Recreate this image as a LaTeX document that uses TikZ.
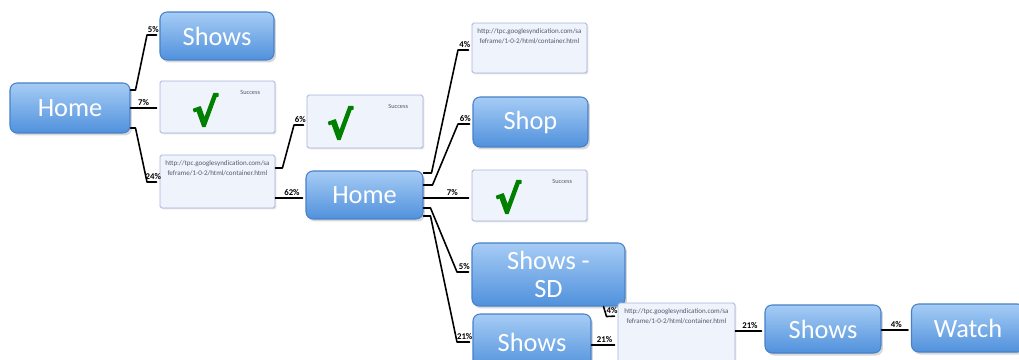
\documentclass[tikz,border=0pt]{standalone}
\usepackage{fontspec}
\setmainfont{Carlito}
\newfontfamily\symfont[FakeBold=3.5]{DejaVu Sans}
\usetikzlibrary{shadows}
\definecolor{boxtop}{RGB}{166,204,245}
\definecolor{boxbot}{RGB}{80,145,220}
\definecolor{boxedge}{RGB}{72,128,202}
\definecolor{pagefill}{RGB}{239,243,251}
\definecolor{pageedge}{RGB}{168,180,222}
\definecolor{urlgray}{RGB}{85,88,110}
\definecolor{okgreen}{RGB}{0,128,0}

\begin{document}
\begin{tikzpicture}[line cap=round,line join=round,x=0.02cm,y=-0.02cm,
  navbox/.style={draw=boxedge,line width=0.6pt,rounded corners=0.14cm,top color=boxtop,bottom color=boxbot,
    text=white,font=\fontsize{15}{16}\selectfont,align=center,
    drop shadow={shadow xshift=0.04cm,shadow yshift=-0.05cm,opacity=0.3}},
  pagebox/.style={draw=pageedge,line width=0.5pt,fill=pagefill,rounded corners=1pt,
    drop shadow={shadow xshift=0.03cm,shadow yshift=-0.03cm,opacity=0.2}},
  urltxt/.style={anchor=north,yshift=-0.12cm,align=center,text=urlgray,font=\fontsize{4}{5.4}\selectfont,inner sep=0pt},
  succtxt/.style={anchor=north east,xshift=-0.3cm,yshift=-0.18cm,text=urlgray,font=\fontsize{3.6}{4}\selectfont,inner sep=0pt},
  checktxt/.style={anchor=center,text=okgreen,font=\symfont\bfseries\fontsize{22}{22}\selectfont,inner sep=0pt},
  conn/.style={line width=0.9pt,shorten >=0.06cm},
  pct/.style={above,inner sep=0.8pt,font=\fontsize{5}{6}\selectfont\bfseries}]
\fill[white] (0,0) rectangle (1019,359);
\useasboundingbox (0,0) rectangle (1019,359);

% first column
\node[navbox,minimum width=2.4cm,minimum height=1cm] (home1) at (70,108) {Home};
\node[navbox,minimum width=2.28cm,minimum height=0.96cm] (shows1) at (217,36) {Shows};
\node[pagebox,minimum width=2.3cm,minimum height=1.04cm,
  label={[succtxt]north east:Success},
  label={[checktxt,xshift=-0.25cm,yshift=-0.06cm]center:√}] (succ1) at (217.5,107) {};
\node[pagebox,minimum width=2.3cm,minimum height=1.06cm,
  label={[urltxt]north:{http://tpc.googlesyndication.com/sa\\feframe/1-0-2/html/container.html}}] (url1) at (217.5,181.5) {};

% second column
\node[pagebox,minimum width=2.32cm,minimum height=1.06cm,
  label={[succtxt]north east:Success},
  label={[checktxt,xshift=-0.5cm,yshift=-0.03cm]center:√}] (succ2) at (365,121.5) {};
\node[navbox,minimum width=2.34cm,minimum height=0.96cm] (home2) at (364.5,195) {Home};

% third column
\node[pagebox,minimum width=2.3cm,minimum height=1cm,
  label={[urltxt]north:{http://tpc.googlesyndication.com/sa\\feframe/1-0-2/html/container.html}}] (url2) at (529.5,48) {};
\node[navbox,minimum width=2.3cm,minimum height=1cm] (shop) at (530.5,122) {Shop};
\node[pagebox,minimum width=2.3cm,minimum height=1.02cm,
  label={[succtxt]north east:Success},
  label={[checktxt,xshift=-0.43cm,yshift=-0.03cm]center:√}] (succ3) at (529.5,195.5) {};
\node[navbox,minimum width=3.06cm,minimum height=1.26cm] (showssd) at (548.5,274.5) {Shows -\\SD};
\node[navbox,minimum width=2.36cm,minimum height=1.12cm] (shows2) at (532,342) {Shows};

% last row
\node[pagebox,minimum width=2.34cm,minimum height=1.18cm,
  label={[urltxt]north:{http://tpc.googlesyndication.com/sa\\feframe/1-0-2/html/container.html}}] (url3) at (676.5,332.5) {};
\node[navbox,minimum width=2.32cm,minimum height=0.96cm] (shows3) at (823,329) {Shows};
\node[navbox,minimum width=2.26cm,minimum height=0.96cm] (watch) at (968,328) {Watch};

% connectors
\draw[conn] (home1.east |- 0,90) -- ++(5,0) -- (147,35) -- node[pct] {5\%} (shows1.west |- 0,35);
\draw[conn] (home1.east |- 0,108) -- node[pct,pos=0.45] {7\%} (succ1.west |- 0,108);
\draw[conn] (home1.east |- 0,128) -- ++(5,0) -- (147,182) -- node[pct] {24\%} (url1.west |- 0,182);
\draw[conn] (url1.east |- 0,168) -- ++(7,0) -- (294,125) -- node[pct] {6\%} (succ2.west |- 0,125);
\draw[conn] (url1.east |- 0,198) -- node[pct,pos=0.55] {62\%} (home2.west |- 0,198);
\draw[conn] (home2.east |- 0,173) -- ++(8,0) -- (458,50) -- node[pct] {4\%} (url2.west |- 0,50);
\draw[conn] (home2.east |- 0,185) -- ++(9,0) -- (458,124) -- node[pct] {6\%} (shop.west |- 0,124);
\draw[conn] (home2.east |- 0,198) -- node[pct,pos=0.6] {7\%} (succ3.west |- 0,198);
\draw[conn] (home2.east |- 0,208) -- ++(7,0) -- (457,272) -- node[pct] {5\%} (showssd.west |- 0,272);
\draw[conn] (home2.east |- 0,216) -- ++(7,0) -- (457,342) -- node[pct] {21\%} (shows2.west |- 0,342);
\draw[conn] (shows2.east |- 0,345) -- node[pct] {21\%} (url3.west |- 0,345);
\draw[conn] (showssd.south east) ++(-22,0) -- ++(3,10) -- node[pct] {4\%} (url3.west |- 0,316);
\draw[conn] (url3.east |- 0,331) -- node[pct] {21\%} (shows3.west |- 0,331);
\draw[conn] (shows3.east |- 0,330) -- node[pct] {4\%} (watch.west |- 0,330);
\end{tikzpicture}
\end{document}
